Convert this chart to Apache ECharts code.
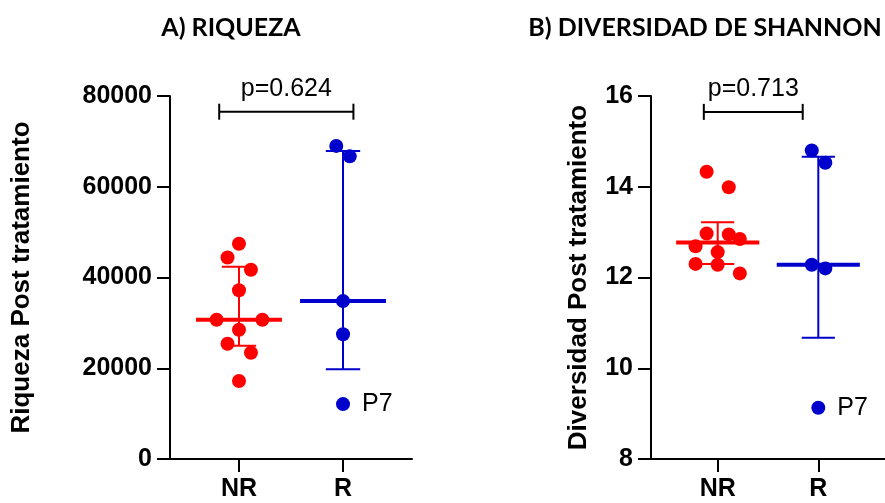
<!DOCTYPE html>
<html>
<head>
  <meta charset="UTF-8">
  <script src="https://cdn.jsdelivr.net/npm/echarts@6/dist/echarts.min.js"></script>
  <style>
    html, body { margin: 0; padding: 0; background: #fff; }
    #main { width: 885px; height: 503px; }
  </style>
</head>
<body>
  <div id="main"></div>
  <script>
    // categories: NR = 1, R = 2 on a value x axis
    var groups = ['NR', 'R'];

    // A) Riqueza -- points as [x jitter offset, value]
    var riqNR = [[0, 47450], [-0.11, 44400], [0.115, 41700], [0, 37200], [-0.215, 30700],
                 [0.225, 30700], [0, 28500], [-0.11, 25400], [0.115, 23400], [0, 17200]];
    var riqR = [[-0.065, 69000], [0.065, 66700], [0, 34800], [0, 27500]];
    var riqP7 = [[0, 12100]];
    // [group, median, low, high]
    var riqStats = [[1, 30700, 24970, 42380], [2, 34800, 19770, 67880]];
    var riqSig = [0.81, 2.1, 76540, 'p=0.624'];

    // B) Diversidad de Shannon
    var divNR = [[-0.11, 14.33], [0.11, 13.99], [-0.11, 12.97], [0.11, 12.95], [0.22, 12.85],
                 [-0.22, 12.69], [0, 12.56], [-0.22, 12.30], [0, 12.28], [0.22, 12.09]];
    var divR = [[-0.065, 14.80], [0.07, 14.53], [-0.065, 12.28], [0.07, 12.20]];
    var divP7 = [[0, 9.13]];
    var divStats = [[1, 12.77, 12.30, 13.22], [2, 12.28, 10.67, 14.66]];
    var divSig = [0.862, 1.845, 15.65, 'p=0.713'];

    var RED = '#ff0000', BLUE = '#0000cc';
    var numFont = '"Liberation Sans", Arial, sans-serif';

    function pts(arr, g) {
      return arr.map(function (d) { return [g + d[0], d[1]]; });
    }

    function statsSeries(idx, stats) {
      return {
        type: 'custom', xAxisIndex: idx, yAxisIndex: idx, z: 3,
        data: stats,
        renderItem: function (params, api) {
          var g = api.value(0);
          var color = g === 1 ? RED : BLUE;
          var m = api.coord([g, api.value(1)]);
          var lo = api.coord([g, api.value(2)]);
          var hi = api.coord([g, api.value(3)]);
          var mL = api.coord([g - 0.413, api.value(1)]);
          var mR = api.coord([g + 0.413, api.value(1)]);
          var cL = api.coord([g - 0.165, 0])[0];
          var cR = api.coord([g + 0.165, 0])[0];
          var st = { stroke: color, lineWidth: 2 };
          return {
            type: 'group',
            children: [
              { type: 'line', shape: { x1: m[0], y1: hi[1], x2: m[0], y2: lo[1] }, style: st },
              { type: 'line', shape: { x1: cL, y1: hi[1], x2: cR, y2: hi[1] }, style: st },
              { type: 'line', shape: { x1: cL, y1: lo[1], x2: cR, y2: lo[1] }, style: st },
              { type: 'line', shape: { x1: mL[0], y1: m[1], x2: mR[0], y2: m[1] },
                style: { stroke: color, lineWidth: 4 } }
            ]
          };
        }
      };
    }

    function sigSeries(idx, sig) {
      return {
        type: 'custom', xAxisIndex: idx, yAxisIndex: idx, z: 3, clip: false,
        data: [sig],
        renderItem: function (params, api) {
          var a = api.coord([api.value(0), api.value(2)]);
          var b = api.coord([api.value(1), api.value(2)]);
          var st = { stroke: '#000', lineWidth: 2 };
          return {
            type: 'group',
            children: [
              { type: 'line', shape: { x1: a[0], y1: a[1], x2: b[0], y2: b[1] }, style: st },
              { type: 'line', shape: { x1: a[0], y1: a[1] - 8, x2: a[0], y2: a[1] + 8 }, style: st },
              { type: 'line', shape: { x1: b[0], y1: b[1] - 8, x2: b[0], y2: b[1] + 8 }, style: st },
              { type: 'text', x: (a[0] + b[0]) / 2, y: a[1] - 23,
                style: { text: sig[3], fill: '#000', font: '25px ' + numFont,
                         align: 'center', verticalAlign: 'middle' } }
            ]
          };
        }
      };
    }

    function scatter(idx, data, color, label) {
      var s = {
        type: 'scatter', xAxisIndex: idx, yAxisIndex: idx, z: 4,
        symbolSize: 14, itemStyle: { color: color, opacity: 1 },
        data: data
      };
      if (label) {
        s.label = { show: true, position: 'right', distance: 12, formatter: label,
                    color: '#000', fontSize: 25, fontFamily: numFont };
      }
      return s;
    }

    function xAxis(idx) {
      return {
        type: 'value', gridIndex: idx, min: 0.337, max: 2.663,
        splitLine: { show: false },
        axisLine: { lineStyle: { color: '#000', width: 2 } },
        axisTick: { customValues: [1, 2], length: 13, lineStyle: { color: '#000', width: 2 } },
        axisLabel: { customValues: [1, 2], margin: 18, color: '#000', fontSize: 25,
                     fontWeight: 'bold', fontFamily: numFont,
                     formatter: function (v) { return groups[Math.round(v) - 1]; } }
      };
    }

    function yAxis(idx, min, max, interval, name, gap) {
      return {
        type: 'value', gridIndex: idx, min: min, max: max, interval: interval,
        name: name, nameLocation: 'middle', nameGap: gap, nameRotate: 90,
        nameTextStyle: { color: '#000', fontSize: 26, fontWeight: 'bold', fontFamily: numFont },
        splitLine: { show: false },
        axisLine: { show: true, lineStyle: { color: '#000', width: 2 } },
        axisTick: { show: true, length: 13, lineStyle: { color: '#000', width: 2 } },
        axisLabel: { margin: 18, color: '#000', fontSize: 25, fontWeight: 'bold', fontFamily: numFont,
                     formatter: function (v) { return String(v); } }
      };
    }

    var chart = echarts.init(document.getElementById('main'));
    chart.setOption({
      backgroundColor: '#fff',
      animation: false,
      title: [
        { text: 'A) RIQUEZA', left: 226, top: 10, textAlign: 'center',
          textStyle: { fontFamily: 'Lato', fontWeight: 'bold', fontSize: 25, color: '#000' } },
        { text: 'B) DIVERSIDAD DE SHANNON', left: 700, top: 10, textAlign: 'center',
          textStyle: { fontFamily: 'Lato', fontWeight: 'bold', fontSize: 25, color: '#000' } }
      ],
      grid: [
        { left: 170, top: 96, width: 242, height: 363 },
        { left: 651, top: 96, width: 241, height: 363 }
      ],
      xAxis: [xAxis(0), xAxis(1)],
      yAxis: [
        yAxis(0, 0, 80000, 20000, 'Riqueza Post tratamiento', 135),
        yAxis(1, 8, 16, 2, 'Diversidad Post tratamiento', 59)
      ],
      series: [
        statsSeries(0, riqStats),
        sigSeries(0, riqSig),
        scatter(0, pts(riqNR, 1), RED),
        scatter(0, pts(riqR, 2), BLUE),
        scatter(0, pts(riqP7, 2), BLUE, 'P7'),
        statsSeries(1, divStats),
        sigSeries(1, divSig),
        scatter(1, pts(divNR, 1), RED),
        scatter(1, pts(divR, 2), BLUE),
        scatter(1, pts(divP7, 2), BLUE, 'P7')
      ]
    });
  </script>
</body>
</html>
